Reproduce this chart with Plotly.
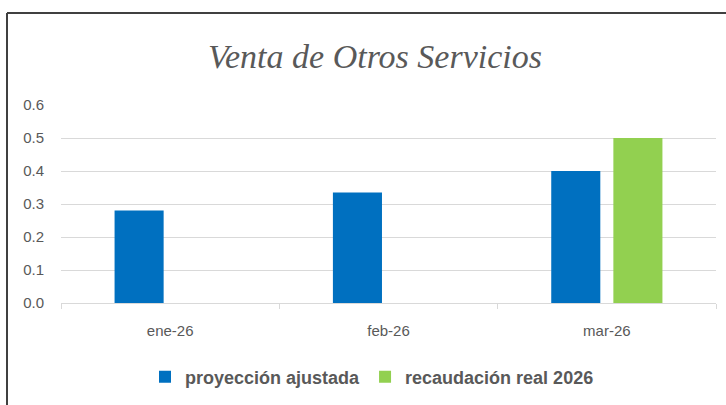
import plotly.graph_objects as go

categories = ["ene-26", "feb-26", "mar-26"]
proyeccion = [0.28, 0.335, 0.40]
recaudacion = [None, None, 0.50]
y_ticks = [0.0, 0.1, 0.2, 0.3, 0.4, 0.5, 0.6]

W, H = 726, 405
L, R, T, B = 61, 10, 105, 102
pw = W - L - R
ph = H - T - B

def px_x(x):
    return (x - L) / pw

def px_y(y):
    return (H - B - y) / ph

fig = go.Figure()
fig.add_trace(go.Bar(x=categories, y=proyeccion, name="proyección ajustada",
                     marker=dict(color="#0070C0", line=dict(width=0))))
fig.add_trace(go.Bar(x=categories, y=recaudacion, name="recaudación real 2026",
                     marker=dict(color="#92D050", line=dict(width=0))))

fig.update_layout(
    width=W, height=H,
    margin=dict(l=L, r=R, t=T, b=B),
    paper_bgcolor="white", plot_bgcolor="white",
    barmode="group", bargap=0.431, bargroupgap=0.21,
    title=dict(text="Venta de Otros Servicios",
               font=dict(family="Liberation Serif", size=34, color="#595959", style="italic"),
               x=375 / W, xanchor="center", xref="container",
               y=1 - 56 / H, yanchor="middle", yref="container"),
    showlegend=True,
    legend=dict(orientation="h", x=px_x(372), xanchor="center", y=px_y(377), yanchor="middle",
                font=dict(family="Liberation Sans", size=18, color="#595959", weight="bold"),
                itemwidth=30, traceorder="normal"),
    xaxis=dict(type="category", showgrid=False, showline=True, linecolor="#d9d9d9", linewidth=1,
               ticks="outside", tickson="boundaries", ticklen=5, tickcolor="#d9d9d9",
               tickfont=dict(family="Liberation Sans", size=15, color="#595959"),
               ticklabelstandoff=14),
    yaxis=dict(range=[0, 0.6], tickvals=y_ticks, tickformat=".1f", showgrid=True,
               gridcolor="#d9d9d9", gridwidth=1, zeroline=False, showline=False,
               tickfont=dict(family="Liberation Sans", size=15, color="#595959"),
               ticklabelstandoff=16),
    shapes=[
        dict(type="line", xref="paper", yref="paper", x0=px_x(7), x1=px_x(730), y0=px_y(13), y1=px_y(13),
             line=dict(color="#404040", width=2)),
        dict(type="line", xref="paper", yref="paper", x0=px_x(7), x1=px_x(7), y0=px_y(13), y1=px_y(410),
             line=dict(color="#404040", width=2)),
    ],
)

fig.write_html("out.html", config={"displayModeBar": False},
               post_script="document.body.style.margin='0px';")
